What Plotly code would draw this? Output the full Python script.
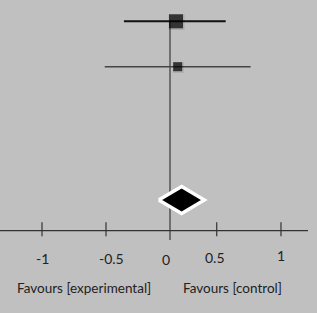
import plotly.graph_objects as go

# ---- data ----
studies = ["Study 1", "Study 2"]
estimates = [0.047, 0.06]
ci_low = [-0.36, -0.51]
ci_high = [0.435, 0.63]
weights = [14, 9]  # square sizes (relative study weight)
pooled_est = 0.091
pooled_low = -0.088
pooled_high = 0.268
tick_vals = [-1, -0.5, 0, 0.365, 0.867]
tick_text = ["-1", "-0.5", "0", "0.5", "1"]
side_labels = ["Favours [experimental]", "Favours [control]"]

# ---- layout constants (pixel-like vertical positions) ----
W, H = 317, 313
X0PX, SCALE = 170.0, 128.0
xr = [-X0PX / SCALE, (W - X0PX) / SCALE]
row_y = [21.3, 66.7]
pooled_y = 200
axis_y = 230.7
FONT = "Lato"

fig = go.Figure()

# vertical line of no effect
fig.add_shape(type="line", x0=0, x1=0, y0=row_y[0], y1=240,
              line=dict(color="#444444", width=1.3), layer="below")

# x axis line and ticks
fig.add_shape(type="line", x0=xr[0], x1=(308 - X0PX) / SCALE, y0=axis_y, y1=axis_y,
              line=dict(color="#333333", width=1.2))
for tv in tick_vals:
    if tv == 0:
        continue
    fig.add_shape(type="line", x0=tv, x1=tv, y0=222.3, y1=236.3,
                  line=dict(color="#333333", width=1.2))

# CI lines
ci_colors = ["#111111", "#444444"]
ci_widths = [2, 1.5]
for i in range(len(studies)):
    fig.add_trace(go.Scatter(x=[ci_low[i], ci_high[i]], y=[row_y[i], row_y[i]],
                             mode="lines", line=dict(color=ci_colors[i], width=ci_widths[i]),
                             hoverinfo="skip", showlegend=False))

# square shadows
fig.add_trace(go.Scatter(x=[e + 0.5 / SCALE for e in estimates], y=[y + 0.7 for y in row_y],
                         mode="markers",
                         marker=dict(symbol="square", size=[w + 2 for w in weights],
                                     color="rgba(0,0,0,0.15)", line=dict(width=0)),
                         hoverinfo="skip", showlegend=False))
# squares
fig.add_trace(go.Scatter(x=estimates, y=row_y, mode="markers",
                         marker=dict(symbol="square", size=weights, color="#000000",
                                     line=dict(width=0)),
                         text=studies, showlegend=False))

# pooled diamond
hh = 13.5
fig.add_trace(go.Scatter(
    x=[pooled_low, pooled_est, pooled_high, pooled_est, pooled_low],
    y=[pooled_y, pooled_y - hh, pooled_y, pooled_y + hh, pooled_y],
    mode="lines", fill="toself", fillcolor="#000000",
    line=dict(color="#ffffff", width=3.5), hoverinfo="skip", showlegend=False))

# tick labels
label_y = [258, 258, 259, 257, 255]
label_shift = [0, 5, -4, -2, 0]
for tv, tt, ly, sh in zip(tick_vals, tick_text, label_y, label_shift):
    fig.add_annotation(x=tv, y=ly, text=tt, showarrow=False, xshift=sh,
                       font=dict(family=FONT, size=14, color="#222222"),
                       xanchor="center", yanchor="middle")

# side labels
fig.add_annotation(x=(83.5 - X0PX) / SCALE, y=287.5, text=side_labels[0], showarrow=False,
                   font=dict(family=FONT, size=13.5, color="#222222"), xanchor="center", yanchor="middle")
fig.add_annotation(x=(232 - X0PX) / SCALE, y=287.5, text=side_labels[1], showarrow=False,
                   font=dict(family=FONT, size=13.5, color="#222222"), xanchor="center", yanchor="middle")

fig.update_layout(
    width=W, height=H, margin=dict(l=0, r=0, t=0, b=0),
    paper_bgcolor="#c0c0c0", plot_bgcolor="#c0c0c0",
    xaxis=dict(range=xr, visible=False, fixedrange=True),
    yaxis=dict(range=[H, 0], visible=False, fixedrange=True),
    showlegend=False,
)

fig.write_html("out.html")
